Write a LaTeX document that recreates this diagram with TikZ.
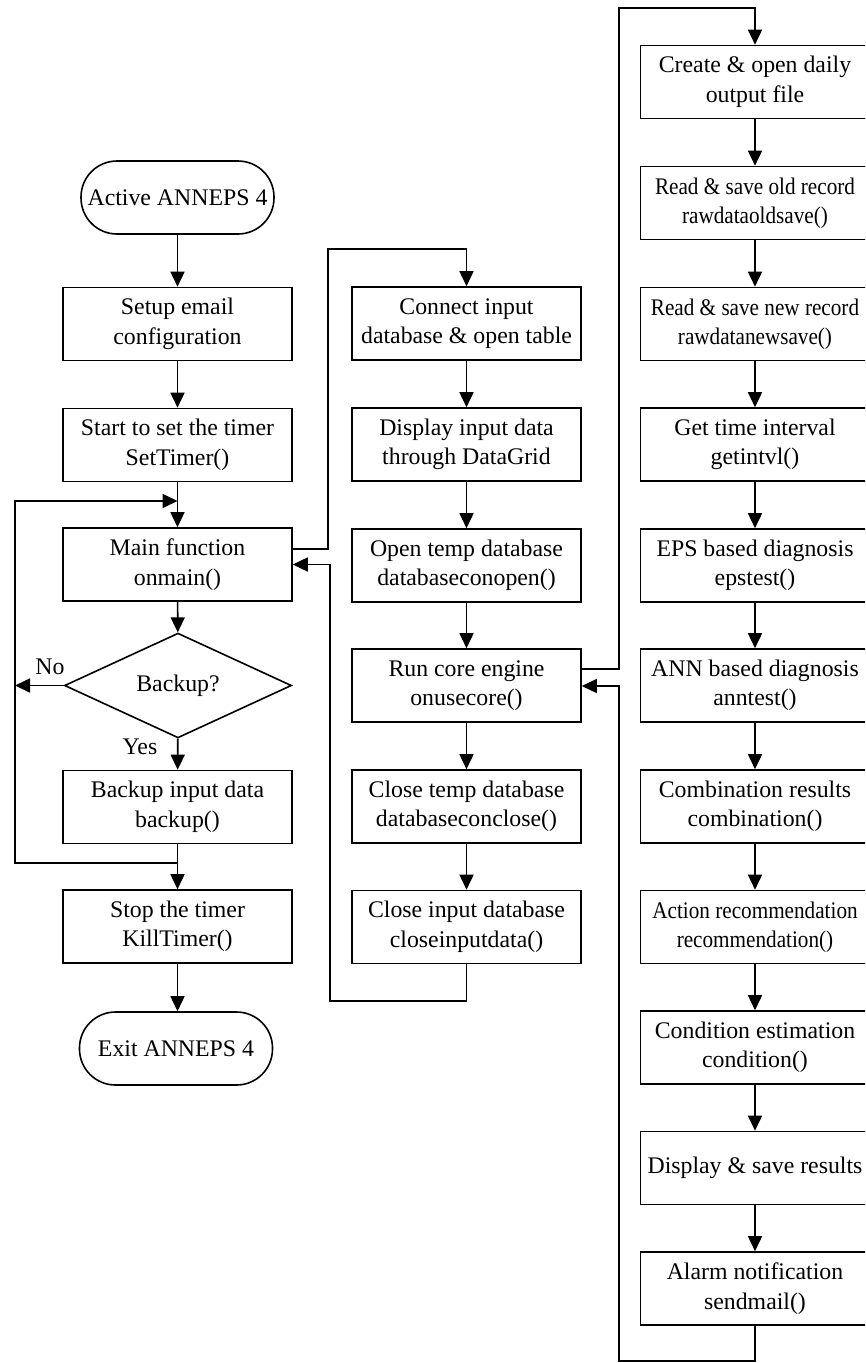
\documentclass[tikz,border=0pt]{standalone}
\usepackage{fontspec}
\setmainfont{Liberation Serif}
\usetikzlibrary{arrows.meta,shapes.geometric}
\newcommand\narrowtext[1]{\scalebox{0.89}[1]{\begin{tabular}{@{}c@{}}#1\end{tabular}}}
\begin{document}
\begin{tikzpicture}[x=1pt,y=-1pt,
  line width=1.6pt,
  fbox/.style={draw, rectangle, minimum width=229pt, minimum height=73pt, inner sep=0pt, align=center, font=\fontsize{23.8}{29.5}\selectfont},
  term/.style={draw, rectangle, rounded corners=36pt, minimum width=193pt, minimum height=73pt, inner sep=0pt, align=center, font=\fontsize{23.8}{29.5}\selectfont},
  dec/.style={draw, diamond, minimum width=227pt, minimum height=95pt, inner sep=0pt, align=center, font=\fontsize{23.8}{29.5}\selectfont},
  lbl/.style={inner sep=0pt, font=\fontsize{23.8}{29.5}\selectfont},
  arr/.style={-{Triangle[length=15pt,width=14pt]}}]
\useasboundingbox (0,0) rectangle (865,1363);
\clip (0,0) rectangle (865,1363);
\fill[white] (0,0) rectangle (865,1363);
% left column
\node[term] (act) at (177.5,197.5) {Active ANNEPS 4};
\node[fbox] (setup) at (177.5,324) {Setup email\\configuration};
\node[fbox] (start) at (177.5,445) {Start to set the timer\\SetTimer()};
\node[fbox] (main) at (177.5,564.5) {Main function\\onmain()};
\node[dec] (dia) at (178,685.5) {Backup?};
\node[fbox] (backup) at (177.5,807) {Backup input data\\backup()};
\node[fbox] (stop) at (177.5,926.5) {Stop the timer\\KillTimer()};
\node[term] (exit) at (176,1048.5) {Exit ANNEPS 4};
% middle column
\node[fbox] (connect) at (466.5,323.5) {Connect input\\database \& open table};
\node[fbox] (display) at (466.5,444.5) {Display input data\\through DataGrid};
\node[fbox] (opentemp) at (466.5,565.5) {Open temp database\\databaseconopen()};
\node[fbox] (run) at (466.5,685.5) {Run core engine\\onusecore()};
\node[fbox] (closetemp) at (466.5,806.5) {Close temp database\\databaseconclose()};
\node[fbox] (closeinput) at (466.5,927) {Close input database\\closeinputdata()};
% right column
\node[fbox] (create) at (755,82) {Create \& open daily\\output file};
\node[fbox] (readold) at (755,203) {\narrowtext{Read \& save old record\\rawdataoldsave()}};
\node[fbox] (readnew) at (755,324) {\narrowtext{Read \& save new record\\rawdatanewsave()}};
\node[fbox] (getint) at (755,444.5) {Get time interval\\getintvl()};
\node[fbox] (eps) at (755,565.5) {EPS based diagnosis\\epstest()};
\node[fbox] (ann) at (755,685.5) {ANN based diagnosis\\anntest()};
\node[fbox] (comb) at (755,806.5) {Combination results\\combination()};
\node[fbox] (action) at (755,927) {\narrowtext{Action recommendation\\recommendation()}};
\node[fbox] (cond) at (755,1047.5) {Condition estimation\\condition()};
\node[fbox] (disp) at (755,1168) {Display \& save results};
\node[fbox] (alarm) at (755,1288.5) {Alarm notification\\sendmail()};
% labels
\node[lbl] (no) at (50,667) {No};
\node[lbl] (yes) at (140,747) {Yes};
% coordinates
\coordinate (m1) at (177.5,501);
\coordinate (m2) at (177.5,863);
\coordinate (lt) at (15,501);
\coordinate (lb) at (15,863);
\coordinate (nl) at (15,685.5);
\coordinate (a1) at (328,549);
\coordinate (a2) at (328,249);
\coordinate (a3) at (466.5,249);
\coordinate (b1) at (466.5,1001);
\coordinate (b2) at (330,1001);
\coordinate (b3) at (330,564.5);
\coordinate (c1) at (619,669);
\coordinate (c2) at (619,8);
\coordinate (c3) at (755,8);
\coordinate (d1) at (755,1361);
\coordinate (d2) at (619,1361);
\coordinate (d3) at (619,686);
% left connectors
\draw[arr] (act) -- (setup);
\draw[arr] (setup) -- (start);
\draw[arr] (start) -- (main);
\draw[arr] (main) -- (dia);
\draw[arr] (dia) -- (backup);
\draw[arr] (backup) -- (stop);
\draw[arr] (stop) -- (exit.north -| stop.south);
\draw[arr] (m2) -- (lb) -- (lt) -- (m1);
\draw[arr] (dia.west) -- (nl);
% middle connectors
\draw[arr] (main.east |- a1) -- (a1) -- (a2) -- (a3) -- (connect.north);
\draw[arr] (connect) -- (display);
\draw[arr] (display) -- (opentemp);
\draw[arr] (opentemp) -- (run);
\draw[arr] (run) -- (closetemp);
\draw[arr] (closetemp) -- (closeinput);
\draw[arr] (closeinput.south) -- (b1) -- (b2) -- (b3) -- (main.east);
% right connectors
\draw[arr] (run.east |- c1) -- (c1) -- (c2) -- (c3) -- (create.north);
\draw[arr] (create) -- (readold);
\draw[arr] (readold) -- (readnew);
\draw[arr] (readnew) -- (getint);
\draw[arr] (getint) -- (eps);
\draw[arr] (eps) -- (ann);
\draw[arr] (ann) -- (comb);
\draw[arr] (comb) -- (action);
\draw[arr] (action) -- (cond);
\draw[arr] (cond) -- (disp);
\draw[arr] (disp) -- (alarm);
\draw[arr] (alarm.south) -- (d1) -- (d2) -- (d3) -- (run.east |- d3);
\end{tikzpicture}
\end{document}
